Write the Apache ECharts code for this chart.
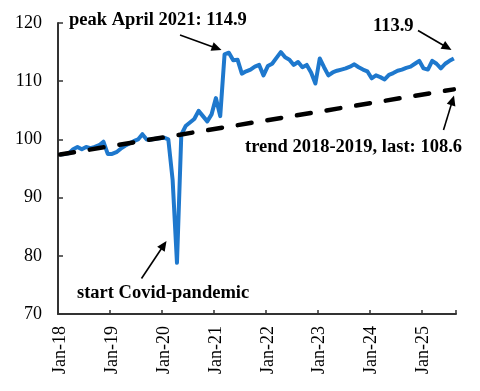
<!DOCTYPE html>
<html><head><meta charset="utf-8">
<script src="https://cdn.jsdelivr.net/npm/echarts@6/dist/echarts.min.js"></script>
<style>html,body{margin:0;padding:0;background:#fff;}#c{width:480px;height:391px;}</style>
</head><body><div id="c"></div>
<script>
const monthNames = ['Jan','Feb','Mar','Apr','May','Jun','Jul','Aug','Sep','Oct','Nov','Dec'];
const yearLabels = ['18','19','20','21','22','23','24','25'];
const categories = [];
yearLabels.forEach(y => monthNames.forEach(m => categories.push(m + '-' + y)));
categories.length = 92; // Jan-18 .. Aug-25

const values2018 = [97.4, 97.5, 97.6, 98.3, 98.7, 98.3, 98.7, 98.5, 98.7, 99.0, 99.6, 97.5];
const values2019 = [97.5, 97.8, 98.4, 98.9, 99.3, 99.7, 100.0, 100.9, 100.0, 100.0, 100.1, 100.2];
const values2020 = [100.3, 100.0, 93.0, 78.8, 100.8, 102.3, 102.9, 103.5, 104.9, 104.0, 103.1, 104.3];
const values2021 = [107.1, 104.0, 114.6, 114.9, 113.6, 113.7, 111.3, 111.7, 112.0, 112.5, 112.8, 111.0];
const values2022 = [112.6, 113.0, 114.0, 115.0, 114.1, 113.7, 112.8, 113.3, 112.4, 112.8, 111.5, 109.6];
const values2023 = [113.9, 112.4, 111.0, 111.5, 111.8, 112.0, 112.2, 112.5, 112.9, 112.4, 112.0, 111.7];
const values2024 = [110.5, 111.0, 110.7, 110.3, 111.1, 111.4, 111.8, 112.0, 112.3, 112.5, 113.0, 113.5];
const values2025 = [112.2, 112.0, 113.5, 113.0, 112.2, 113.0, 113.5, 113.9];
const indexValues = [].concat(values2018, values2019, values2020, values2021, values2022, values2023, values2024, values2025);

const trendFirst = 97.4;
const trendLast = 108.6;
const trendValues = categories.map((_, i) => i === 0 ? trendFirst : (i === categories.length - 1 ? trendLast : null));

const yMin = 70, yMax = 120, yStep = 10;

const peakText = 'peak April 2021: 114.9';
const lastText = '113.9';
const trendText = 'trend 2018-2019, last: 108.6';
const covidText = 'start Covid-pandemic';

const serif = '"Liberation Serif", "Times New Roman", serif';
const axisColor = '#333';

function arrow(x1, y1, x2, y2) {
  const dx = x2 - x1, dy = y2 - y1, L = Math.hypot(dx, dy);
  const ux = dx / L, uy = dy / L, hl = 10, hw = 4.5;
  const bx = x2 - ux * hl, by = y2 - uy * hl;
  return [
    {type: 'line', shape: {x1: x1, y1: y1, x2: bx + ux * 1, y2: by + uy * 1}, style: {stroke: '#000', lineWidth: 1.6}},
    {type: 'polygon', shape: {points: [[x2, y2], [bx - uy * hw, by + ux * hw], [bx + uy * hw, by - ux * hw]]}, style: {fill: '#000'}}
  ];
}
function label(text, x, y) {
  return {type: 'text', x: x, y: y, style: {text: text, fill: '#000', font: 'bold 18.5px ' + serif,
    align: 'left', verticalAlign: 'middle', textAlign: 'left', textVerticalAlign: 'middle'}};
}

const chart = echarts.init(document.getElementById('c'), null, {renderer: 'canvas'});
chart.setOption({
  animation: false,
  backgroundColor: '#fff',
  grid: {left: 58, right: 24, top: 23, bottom: 77, containLabel: false},
  xAxis: {
    type: 'category', data: categories, boundaryGap: true,
    axisLine: {show: true, lineStyle: {color: axisColor, width: 2}},
    axisTick: {show: true, inside: true, length: 4, interval: 11, lineStyle: {color: axisColor, width: 1.5}},
    axisLabel: {interval: 11, rotate: 90, margin: 12, color: '#000', fontFamily: serif, fontSize: 18},
    splitLine: {show: false}
  },
  yAxis: {
    type: 'value', min: yMin, max: yMax, interval: yStep,
    axisLine: {show: true, lineStyle: {color: axisColor, width: 2}},
    axisTick: {show: true, inside: true, length: 5, lineStyle: {color: axisColor, width: 1.5}},
    axisLabel: {margin: 16, color: '#000', fontFamily: serif, fontSize: 18},
    splitLine: {show: false}
  },
  series: [
    {type: 'line', data: indexValues, symbol: 'none', lineStyle: {color: '#1e78cd', width: 4, join: 'round'}},
    {type: 'line', data: trendValues, connectNulls: true, symbol: 'none',
     lineStyle: {color: '#000', width: 4.5, type: [14, 16], cap: 'round'}}
  ],
  graphic: [].concat(
    label(peakText, 69, 20.5),
    label(lastText, 373, 26),
    label(trendText, 245, 147.5),
    label(covidText, 77, 293.5),
    arrow(180, 35, 221.5, 50),
    arrow(418, 30.5, 451.5, 50),
    arrow(443.5, 130, 454, 95.5),
    arrow(141.5, 278.5, 166.5, 241)
  )
});
</script></body></html>
